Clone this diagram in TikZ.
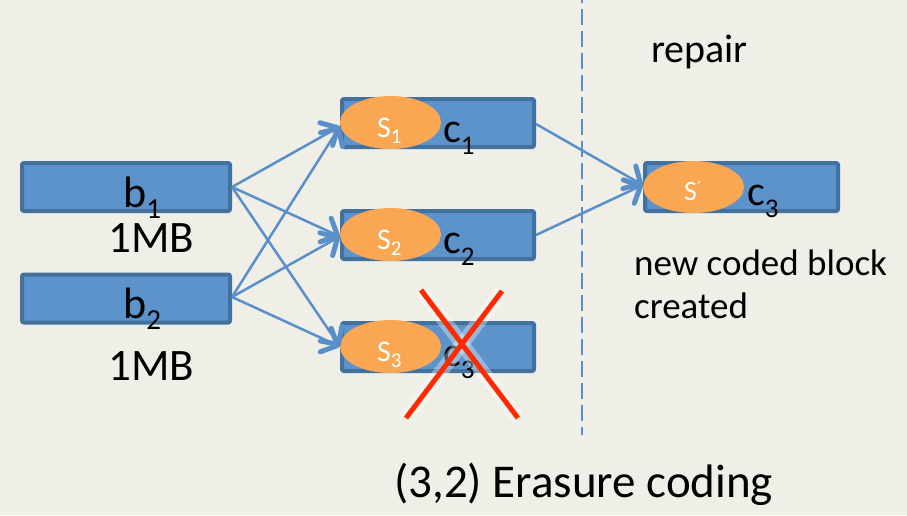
\documentclass[tikz,border=0pt]{standalone}
\usepackage{fontspec}
\setmainfont{Carlito}
\newfontfamily\symfont{DejaVu Sans}
\usetikzlibrary{shapes.geometric,arrows.meta}

\definecolor{paper}{HTML}{EFEEE7}
\definecolor{blockfill}{HTML}{5C93CB}
\definecolor{blockedge}{HTML}{41719C}
\definecolor{chunk}{HTML}{F9A753}
\definecolor{link}{HTML}{5B8FC9}
\definecolor{lost}{HTML}{FF2A00}

\newcommand{\fs}[1]{\fontsize{#1}{#1}\selectfont}
% letter with a lowered index, e.g. c_1
\newcommand{\idx}[5]{{\fs{#1}#2\raisebox{-#5pt}{\fs{#3}#4}}}

\tikzset{
  blockbox/.style={draw=blockedge, fill=blockfill, line width=4pt,
    rounded corners=2pt, minimum width=#1, minimum height=48pt, inner sep=0pt},
  chunkblob/.style={ellipse, fill=chunk, draw=none, minimum width=101pt,
    minimum height=53pt, inner sep=0pt},
  txt/.style={inner sep=0pt, anchor=base west},
  linkarrow/.style={draw=link, line width=2.5pt,
    -{Straight Barb[length=13pt, width=26pt, line width=5pt, round]}},
  crossline/.style={draw=lost, line width=5pt},
  crossglow/.style={draw=white, opacity=0.35, line width=14pt},
}

\begin{document}
\begin{tikzpicture}[x=1pt, y=-1pt]
  \fill[paper] (0,0) rectangle (907,515);
  \useasboundingbox (0,0) rectangle (907,515);

  % divider between encoding and repair
  \coordinate (divtop) at (582,0);
  \coordinate (divbot) at (582,435);
  \draw[link, line width=2.2pt, dash pattern=on 16pt off 6pt, dash phase=13pt]
    (divtop) -- (divbot);

  % source blocks
  \node[blockbox=208pt] (b1) at (126,187) {};
  \node[blockbox=208pt] (b2) at (126,298.5) {};
  \node[txt] (b1lab) at (123,207) {\idx{44}{b}{29}{1}{11}};
  \node[txt] (b2lab) at (123,318) {\idx{44}{b}{29}{2}{11}};
  \node[txt] (mb1) at (108,252) {\fs{45}1MB};
  \node[txt] (mb2) at (108,380) {\fs{45}1MB};

  % coded blocks
  \node[blockbox=192pt] (c1) at (438,123) {};
  \node[blockbox=192pt] (c2) at (438,235) {};
  \node[blockbox=192pt] (c3) at (438,347) {};
  \node[chunkblob] (s1) at (390.5,122.5) {};
  \node[chunkblob] (s2) at (390.5,234.5) {};
  \node[chunkblob] (s3) at (390.5,346.5) {};
  \node[txt, text=white] (s1lab) at (377,137) {\idx{30}{S}{21}{1}{6}};
  \node[txt, text=white] (s2lab) at (377,249) {\idx{30}{S}{21}{2}{6}};
  \node[txt, text=white] (s3lab) at (377,361) {\idx{30}{S}{21}{3}{6}};
  \node[txt] (c1lab) at (443,142) {\idx{42}{c}{27}{1}{12}};
  \node[txt] (c2lab) at (443,253) {\idx{42}{c}{27}{2}{12}};
  \node[txt] (c3lab) at (443,366) {\idx{42}{c}{27}{3}{12}};

  % repaired block
  \node[blockbox=193pt] (r) at (741.5,187) {};
  \node[chunkblob, minimum height=52pt] (sp) at (693.5,187) {};
  \node[txt, text=white] (splab) at (684,200)
    {\fs{28}S\raisebox{6pt}{\symfont\fs{18}′}};
  \node[txt] (rlab) at (747,205) {\idx{42}{c}{27}{3}{12}};

  % encoding links
  \coordinate (o1) at (232,187);
  \coordinate (o2) at (232,297);
  \coordinate (i1) at ([yshift=-4pt]s1.west);
  \coordinate (i2) at ([yshift=-2pt]s2.west);
  \coordinate (i3) at ([yshift=0pt]s3.west);
  \foreach \src in {o1,o2}
    \foreach \dst in {i1,i2,i3}
      \draw[linkarrow] (\src) -- (\dst);

  % repair links
  \coordinate (e1) at (536,124);
  \coordinate (e2) at (536,235);
  \coordinate (ri) at ([yshift=2pt]sp.west);
  \draw[linkarrow] (e1) -- (ri);
  \draw[linkarrow] (e2) -- (ri);

  % lost block
  \coordinate (xa) at (421,290);
  \coordinate (xb) at (518,418);
  \coordinate (xc) at (502,291);
  \coordinate (xd) at (406,418);
  \draw[crossglow] (xa) -- (xb);
  \draw[crossglow] (xc) -- (xd);
  \draw[crossline] (xa) -- (xb);
  \draw[crossline] (xc) -- (xd);

  % captions
  \node[txt] (rep) at (651,62) {\fs{40}repair};
  \node[txt] (new1) at (634,275) {\fs{37}new coded block};
  \node[txt] (new2) at (634,318) {\fs{37}created};
  \node[txt] (cap) at (394,497) {\fs{47}(3,2) Erasure coding};
\end{tikzpicture}
\end{document}
